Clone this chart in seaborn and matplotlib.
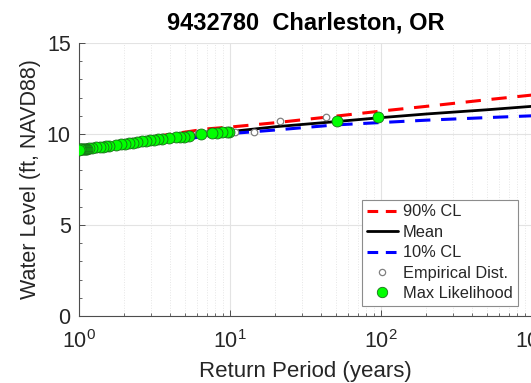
import numpy as np
import pandas as pd
import matplotlib
matplotlib.use("Agg")
import matplotlib.pyplot as plt
import seaborn as sns
from matplotlib.ticker import LogLocator, MultipleLocator, NullFormatter

# ---- data ----
curve_T = [1.0, 1.2, 1.5, 2.0, 3.0, 5.0, 7.0, 10.0, 20.0, 50.0, 100.0, 200.0, 500.0, 1000.0]
mean_level = [9.13, 9.22, 9.31, 9.45, 9.65, 9.86, 10.0, 10.13, 10.4, 10.68, 10.9, 11.1, 11.33, 11.52]
cl90_level = [9.2, 9.3, 9.42, 9.58, 9.83, 10.1, 10.28, 10.38, 10.62, 10.98, 11.26, 11.52, 11.88, 12.14]
cl10_level = [9.05, 9.14, 9.22, 9.33, 9.5, 9.72, 9.88, 10.02, 10.22, 10.5, 10.63, 10.76, 10.9, 11.0]

obs_level = [10.92, 10.7, 10.13, 10.12, 10.1, 10.08, 10.05, 10.0, 9.9, 9.86,
             9.84, 9.82, 9.78, 9.72, 9.7, 9.68, 9.66, 9.64, 9.61, 9.56,
             9.53, 9.5, 9.47, 9.44, 9.4, 9.34, 9.32, 9.3, 9.28, 9.26,
             9.23, 9.21, 9.2, 9.2, 9.19, 9.18, 9.17, 9.17, 9.16, 9.15,
             9.15, 9.14]
emp_T = [43.0, 21.5, 14.33, 10.75, 8.6, 7.17, 6.14, 5.38, 4.78, 4.3,
         3.91, 3.58, 3.31, 3.07, 2.87, 2.69, 2.53, 2.39, 2.26, 2.15,
         2.05, 1.95, 1.87, 1.79, 1.72, 1.65, 1.59, 1.54, 1.48, 1.43,
         1.39, 1.34, 1.3, 1.26, 1.23, 1.19, 1.16, 1.13, 1.1, 1.075,
         1.049, 1.024]
ml_T = [95.5, 50.8, 9.8, 9.5, 8.85, 8.2, 7.6, 6.4, 5.35, 4.95,
        4.66, 4.38, 3.95, 3.55, 3.34, 3.14, 2.95, 2.78, 2.61, 2.42,
        2.28, 2.14, 2.02, 1.9, 1.76, 1.58, 1.51, 1.44, 1.38, 1.3,
        1.22, 1.16, 1.13, 1.11, 1.1, 1.08, 1.06, 1.05, 1.03, 1.015,
        1.008, 1.0]

title = "9432780  Charleston, OR"
xlabel = "Return Period (years)"
ylabel = "Water Level (ft, NAVD88)"

# ---- style ----
sns.set_style("white")
plt.rcParams["font.family"] = ["Liberation Sans", "DejaVu Sans"]
plt.rcParams["mathtext.fontset"] = "custom"
plt.rcParams["mathtext.rm"] = "Liberation Sans"
plt.rcParams["mathtext.it"] = "Liberation Sans"
plt.rcParams["mathtext.default"] = "regular"

fig = plt.figure(figsize=(5.31, 3.83), dpi=100)
ax = fig.add_axes([79 / 531, 1 - 316 / 383, (532 - 79) / 531, (316 - 43) / 383])

curves = pd.DataFrame({"T": curve_T, "mean": mean_level, "cl90": cl90_level, "cl10": cl10_level})
emp = pd.DataFrame({"T": emp_T, "level": obs_level})
ml = pd.DataFrame({"T": ml_T, "level": obs_level})

sns.lineplot(data=curves, x="T", y="cl90", ax=ax, color="#ff0000", lw=2.2,
             linestyle=(0, (5, 3.5)), zorder=3)
sns.lineplot(data=curves, x="T", y="mean", ax=ax, color="black", lw=2.0, zorder=3)
sns.lineplot(data=curves, x="T", y="cl10", ax=ax, color="#0000ff", lw=2.2,
             linestyle=(0, (5, 3.5)), zorder=3)
sns.scatterplot(data=emp, x="T", y="level", ax=ax, s=22, color="white",
                edgecolor="#808080", linewidth=0.9, zorder=4)
sns.scatterplot(data=ml, x="T", y="level", ax=ax, s=62, color="#00ff00",
                edgecolor="#1a6e1a", linewidth=0.6, zorder=5)

ax.set_xscale("log")
ax.set_xlim(1, 1000)
ax.set_ylim(0, 15)
ax.set_yticks([0, 5, 10, 15])
ax.yaxis.set_minor_locator(MultipleLocator(1))
ax.xaxis.set_major_locator(LogLocator(base=10, numticks=10))
ax.xaxis.set_minor_locator(LogLocator(base=10, subs=np.arange(2, 10), numticks=20))
ax.xaxis.set_minor_formatter(NullFormatter())

ax.grid(which="major", color="#e3e3e3", lw=0.8, ls="-")
ax.grid(which="minor", axis="x", color="#e6e6e6", lw=0.7, ls=":")
ax.set_axisbelow(True)

for s in ["top", "right"]:
    ax.spines[s].set_visible(False)
for s in ["left", "bottom"]:
    ax.spines[s].set_color("#4d4d4d")
    ax.spines[s].set_linewidth(0.8)

ax.tick_params(which="both", direction="in", colors="#4d4d4d", labelcolor="#262626",
               labelsize=15.5, bottom=True, left=True)
ax.tick_params(which="major", length=4, width=0.7)
ax.tick_params(which="minor", length=2.5, width=0.6)
ax.tick_params(axis="x", pad=10)
ax.tick_params(axis="y", pad=6)

ax.set_xlabel(xlabel, fontsize=16, color="#262626", labelpad=6)
ax.set_ylabel(ylabel, fontsize=15.5, color="#262626", labelpad=4)
ax.set_title(title, fontsize=17, fontweight="bold", color="black", pad=10)

handles = [
    plt.Line2D([], [], color="#ff0000", lw=2.2, linestyle=(0, (3.5, 2.5))),
    plt.Line2D([], [], color="black", lw=2.0),
    plt.Line2D([], [], color="#0000ff", lw=2.2, linestyle=(0, (3.5, 2.5))),
    plt.Line2D([], [], ls="none", marker="o", ms=4.5, mfc="white", mec="#808080", mew=0.9),
    plt.Line2D([], [], ls="none", marker="o", ms=7.5, mfc="#00ff00", mec="#1a6e1a", mew=0.6),
]
labels = ["90% CL", "Mean", "10% CL", "Empirical Dist.", "Max Likelihood"]
leg = ax.legend(handles, labels, loc="lower left", bbox_to_anchor=(362 / 531, 1 - 306 / 383),
                bbox_transform=fig.transFigure, fontsize=11.8, frameon=True, fancybox=False,
                edgecolor="#8c8c8c", framealpha=1, borderpad=0.3, labelspacing=0.33,
                handlelength=1.9, handletextpad=0.3, borderaxespad=0)
leg.get_frame().set_linewidth(0.8)

fig.savefig("out.png", dpi=100)
